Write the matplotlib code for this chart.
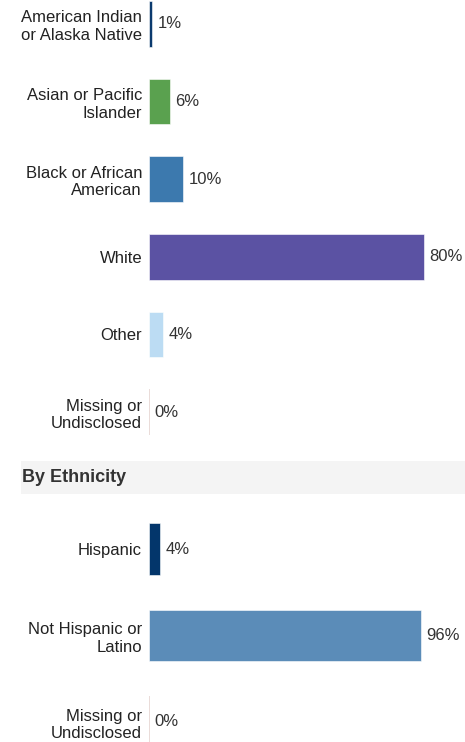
import matplotlib
matplotlib.use('Agg')
import matplotlib.pyplot as plt
from matplotlib.patches import Rectangle

plt.rcParams['font.family'] = ['Liberation Sans', 'DejaVu Sans']

# race breakdown
race_labels = ['American Indian\nor Alaska Native', 'Asian or Pacific\nIslander',
               'Black or African\nAmerican', 'White', 'Other', 'Missing or\nUndisclosed']
race_values = [1, 6, 10, 80, 4, 0]
race_colors = ['#0b3a6e', '#5aa14f', '#3c79ae', '#5b52a3', '#bcdcf3', '#e6d6d2']

# ethnicity breakdown
eth_title = 'By Ethnicity'
eth_labels = ['Hispanic', 'Not Hispanic or\nLatino', 'Missing or\nUndisclosed']
eth_values = [4, 96, 0]
eth_colors = ['#03366b', '#5b8cb8', '#e6d6d2']

W, H = 465, 742
fig = plt.figure(figsize=(W / 100, H / 100), dpi=100)
fig.patch.set_facecolor('white')


def px_axes(left, top, right, bottom):
    # axes placed by pixel box (top-left origin)
    return fig.add_axes([left / W, 1 - bottom / H, (right - left) / W, (bottom - top) / H])


def draw(ax, labels, values, colors, xmax, ylim, height):
    y = list(range(len(values)))
    for yi, v, c in zip(y, values, colors):
        if v == 0:
            ax.barh(yi, 0, height=height, color=c, edgecolor=c, linewidth=1.2)
        else:
            ax.barh(yi, v, height=height, color=c, edgecolor='white', linewidth=0.4)
        ax.annotate(f'{v}%', (v, yi), xytext=(4, 0), textcoords='offset points',
                    va='center', ha='left', fontsize=12, color='#333333')
    ax.set_xlim(0, xmax)
    ax.set_ylim(*ylim)
    ax.set_yticks(y)
    ax.set_yticklabels(labels, fontsize=12, color='#222222', linespacing=1.22)
    ax.tick_params(axis='y', length=0, pad=5)
    ax.set_xticks([])
    for s in ax.spines.values():
        s.set_visible(False)
    ax.patch.set_alpha(0)


ax1 = px_axes(149, 0, 465, 450)
draw(ax1, race_labels, race_values, race_colors, max(race_values) * 1.149,
     ((450 - 24) / 77.6, -24 / 77.6), 0.59)

ax2 = px_axes(149, 500, 465, 742)
draw(ax2, eth_labels, eth_values, eth_colors, max(eth_values) * 1.162,
     ((742 - 549) / 86.5, (500 - 549) / 86.5), 0.6)

# section header band
fig.add_artist(Rectangle((21 / W, 1 - 494 / H), (W - 21) / W, 33 / H,
                         transform=fig.transFigure, facecolor='#f4f4f4', edgecolor='none', zorder=0))
fig.text(22 / W, 1 - 478 / H, eth_title, fontsize=13, fontweight='bold',
         color='#333333', va='center', ha='left')

fig.savefig('out.png', dpi=100)
